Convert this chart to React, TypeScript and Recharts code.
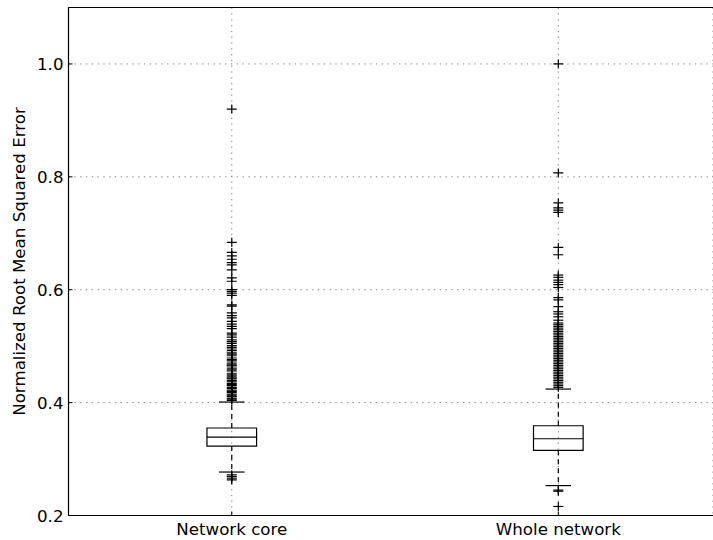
import React from 'react';
import {
  ComposedChart,
  Scatter,
  XAxis,
  YAxis,
  CartesianGrid,
  ReferenceArea,
  ReferenceLine,
} from 'recharts';

const categories = ['Network core', 'Whole network'];
const positions = [1, 2];
const q1 = [0.323, 0.3155];
const medians = [0.339, 0.336];
const q3 = [0.355, 0.359];
const whiskerLow = [0.277, 0.253];
const whiskerHigh = [0.401, 0.424];
const yTicks = [0.2, 0.4, 0.6, 0.8, 1.0];

// outliers, dense runs included
const coreOutliers = [
  0.92, 0.684, 0.666, 0.66, 0.654, 0.648, 0.644, 0.635, 0.621, 0.615, 0.6,
  0.597, 0.594, 0.59, 0.573, 0.571, 0.559, 0.554, 0.55, 0.544, 0.539, 0.535,
  0.531, 0.523, 0.52, 0.516, 0.511, 0.508, 0.505, 0.501, 0.498, 0.495, 0.492,
  0.488, 0.486, 0.483, 0.479, 0.476, 0.474, 0.47, 0.467, 0.465, 0.461, 0.458,
  0.456, 0.452, 0.449, 0.447, 0.444, 0.442, 0.439, 0.437, 0.434, 0.432, 0.43,
  0.427, 0.425, 0.422, 0.42, 0.418, 0.415, 0.413, 0.411, 0.408, 0.406, 0.404,
  0.272, 0.269, 0.266, 0.263,
];

const wholeOutliers = [
  1.0, 0.807, 0.754, 0.745, 0.741, 0.737, 0.675, 0.662, 0.626, 0.622, 0.617,
  0.613, 0.609, 0.604, 0.586, 0.582, 0.57, 0.561, 0.557, 0.552, 0.546, 0.541,
  0.538, 0.535, 0.532, 0.529, 0.526, 0.523, 0.52, 0.517, 0.514, 0.511, 0.508,
  0.505, 0.502, 0.499, 0.496, 0.493, 0.49, 0.487, 0.484, 0.481, 0.478, 0.475,
  0.472, 0.469, 0.466, 0.463, 0.46, 0.457, 0.454, 0.451, 0.448, 0.445, 0.442,
  0.439, 0.436, 0.433, 0.43, 0.427, 0.245, 0.243, 0.216,
];

const font = "'DejaVu Sans', sans-serif";
const fontSize = 16.67;
const boxHalf = 0.076;
const capHalf = 0.039;

const outlierData = [
  ...coreOutliers.map((v) => ({ x: positions[0], y: v })),
  ...wholeOutliers.map((v) => ({ x: positions[1], y: v })),
];

const Plus = (props: any) => {
  const { cx, cy } = props;
  return (
    <g stroke="#000" strokeWidth={1.2}>
      <line x1={cx - 5} x2={cx + 5} y1={cy} y2={cy} />
      <line x1={cx} x2={cx} y1={cy - 4.5} y2={cy + 4.5} />
    </g>
  );
};

const YTick = ({ x, y, payload }: any) => (
  <g>
    <line x1={x} x2={x + 4} y1={y} y2={y} stroke="#000" />
    <text x={x - 5} y={y + 6} textAnchor="end" fontSize={fontSize} fontFamily={font} fill="#000">
      {payload.value.toFixed(1)}
    </text>
  </g>
);

const XTick = ({ x, y, payload }: any) => (
  <g>
    <line x1={x} x2={x} y1={y} y2={y - 4} stroke="#000" />
    <text x={x} y={y + 19.5} textAnchor="middle" fontSize={fontSize} fontFamily={font} fill="#000">
      {categories[positions.indexOf(payload.value)]}
    </text>
  </g>
);

const YLabel = ({ viewBox }: any) => {
  const cx = viewBox.x + 25;
  const cy = viewBox.y + viewBox.height / 2;
  return (
    <text
      x={cx}
      y={cy}
      transform={`rotate(-90 ${cx} ${cy})`}
      textAnchor="middle"
      fontSize={fontSize}
      fontFamily={font}
      fill="#000"
    >
      Normalized Root Mean Squared Error
    </text>
  );
};

export default function App() {
  return (
    <div style={{ position: 'absolute', left: 0, top: 0, background: '#fff' }}>
      <ComposedChart
        width={713}
        height={540}
        margin={{ top: 7.5, right: 0, bottom: 0, left: 0 }}
      >
        <CartesianGrid stroke="#888" strokeDasharray="1.4 4.4" />
        <XAxis
          type="number"
          dataKey="x"
          domain={[0.5, 2.4737]}
          ticks={positions}
          allowDataOverflow
          height={24.5}
          axisLine={{ stroke: '#000', strokeWidth: 1.2 }}
          tickLine={false}
          tickSize={0}
          tickMargin={0}
          tick={<XTick />}
        />
        <YAxis
          type="number"
          dataKey="y"
          domain={[0.2, 1.1]}
          ticks={yTicks}
          allowDataOverflow
          width={68.5}
          axisLine={{ stroke: '#000', strokeWidth: 1.2 }}
          tickLine={false}
          tickSize={0}
          tickMargin={0}
          tick={<YTick />}
          label={{ content: YLabel }}
        />
        <ReferenceLine y={1.1} stroke="#000" strokeWidth={1.2} />
        {positions.map((p, i) => (
          <React.Fragment key={categories[i]}>
            <ReferenceLine
              segment={[{ x: p, y: q3[i] }, { x: p, y: whiskerHigh[i] }]}
              stroke="#000"
              strokeWidth={1.2}
              strokeDasharray="5 4"
            />
            <ReferenceLine
              segment={[{ x: p, y: q1[i] }, { x: p, y: whiskerLow[i] }]}
              stroke="#000"
              strokeWidth={1.2}
              strokeDasharray="5 4"
            />
            <ReferenceLine
              segment={[{ x: p - capHalf, y: whiskerHigh[i] }, { x: p + capHalf, y: whiskerHigh[i] }]}
              stroke="#000"
              strokeWidth={1.2}
            />
            <ReferenceLine
              segment={[{ x: p - capHalf, y: whiskerLow[i] }, { x: p + capHalf, y: whiskerLow[i] }]}
              stroke="#000"
              strokeWidth={1.2}
            />
            <ReferenceArea
              x1={p - boxHalf}
              x2={p + boxHalf}
              y1={q1[i]}
              y2={q3[i]}
              fill="none"
              fillOpacity={0}
              stroke="#000"
              strokeWidth={1.2}
            />
            <ReferenceLine
              segment={[{ x: p - boxHalf, y: medians[i] }, { x: p + boxHalf, y: medians[i] }]}
              stroke="#000"
              strokeWidth={1.2}
            />
          </React.Fragment>
        ))}
        <Scatter data={outlierData} shape={Plus} isAnimationActive={false} />
      </ComposedChart>
    </div>
  );
}
